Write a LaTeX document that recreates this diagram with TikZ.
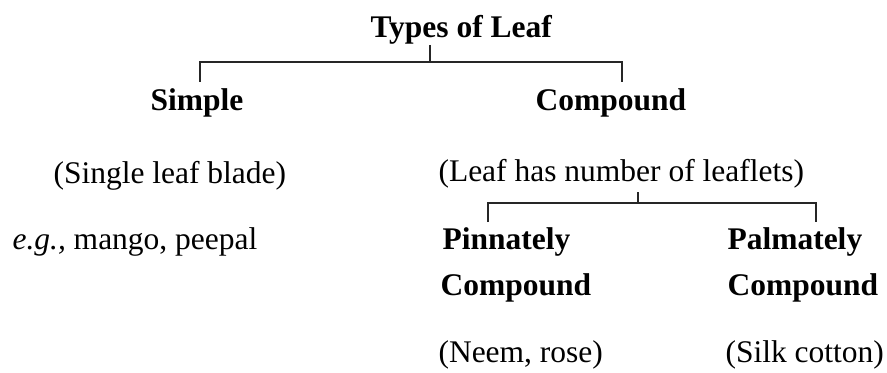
\documentclass[tikz,border=0pt]{standalone}
\usepackage{fontspec}
\setmainfont{Liberation Serif}

\begin{document}
\begin{tikzpicture}[x=0.381pt,y=-0.381pt,
    txt/.style={anchor=base west,inner sep=0pt,font=\fontsize{12}{14}\selectfont},
    hd/.style={txt,font=\fontsize{12}{14}\selectfont\bfseries},
    brk/.style={line width=0.8pt,black!85}]
                \useasboundingbox (0,0) rectangle (887,373);

                \node[hd] (types) at (370,38) {Types of Leaf};
                \node[hd] (simple) at (150,110) {Simple};
                \node[hd] (compound) at (535,110) {Compound};

                \node[txt] (single) at (53,183) {(Single leaf blade)};
                \node[txt] (eg) at (12,249) {\textit{e.g.,} mango, peepal};
                \node[txt] (leaflets) at (438,182) {(Leaf has number of leaflets)};

                \node[hd] (pinn) at (442,249) {Pinnately};
                \node[hd] (pinncomp) at (440,295) {Compound};
                \node[hd] (palm) at (727,249) {Palmately};
                \node[hd] (palmcomp) at (727,295) {Compound};
                \node[txt] (neem) at (438,362) {(Neem, rose)};
                \node[txt] (silk) at (725,362) {(Silk cotton)};

                % first bracket
                \coordinate (a0) at (430,45);
                \coordinate (a1) at (200,82);
                \coordinate (a2) at (622,82);
                \draw[brk] (a0) -- (a0 |- 0,62);
                \draw[brk] (a1) |- (a2 |- 0,62) -- (a2);

                % second bracket
                \coordinate (b0) at (638,192);
                \coordinate (b1) at (488,222);
                \coordinate (b2) at (816,222);
                \draw[brk] (b0) -- (b0 |- 0,203);
                \draw[brk] (b1) |- (b2 |- 0,203) -- (b2);
            \end{tikzpicture}
\end{document}
